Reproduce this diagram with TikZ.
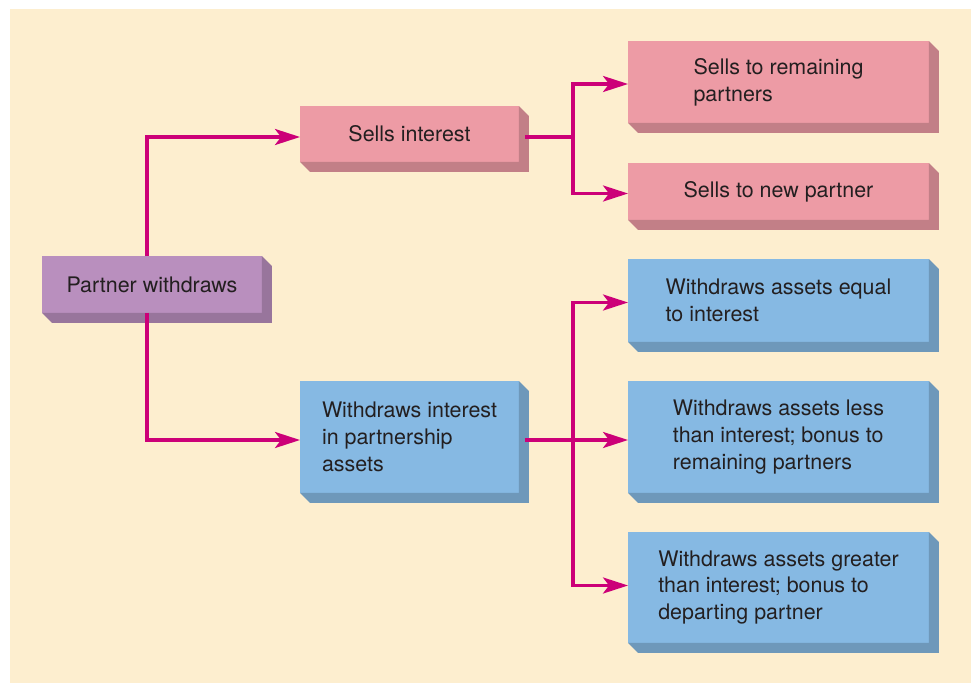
\documentclass[tikz,border=0pt]{standalone}
\usepackage{fontspec}
\setmainfont{TeX Gyre Heros}
\usetikzlibrary{arrows.meta, calc}
\definecolor{ccream}{HTML}{FDEECF}
\definecolor{cpink}{HTML}{ED9BA5}
\definecolor{cpurple}{HTML}{B98FBE}
\definecolor{cblue}{HTML}{86B9E3}
\definecolor{cmag}{HTML}{CC0078}
\definecolor{ctext}{HTML}{231F20}
\tikzset{
  every picture/.style={font=\fontsize{12.2}{15.2}\selectfont, x=0.02cm, y=-0.02cm},
  box/.style={fill=#1, draw=none, text=ctext, align=left, inner sep=4pt, outer sep=0pt, minimum width=6.02cm},
  box/.default=cblue,
  link/.style={-{Stealth[length=5mm, width=3.2mm, inset=1.2mm]}, draw=cmag, line width=1.8pt},
  feed/.style={draw=cmag, line width=1.8pt},
}

\begin{document}
\begin{tikzpicture}
  \useasboundingbox (0,0) rectangle (975,683);
  \fill[ccream] (10,9) rectangle (971,683);

  % source
  \node[box=cpurple, minimum width=4.4cm, minimum height=1.14cm] (wd) at (152,284.5) {Partner withdraws};

  % two ways out
  \node[box=cpink, minimum width=4.38cm, minimum height=1.12cm] (sell) at (409.5,134) {Sells interest};
  \node[box=cblue, minimum width=4.38cm, minimum height=2.24cm] (wint) at (409.5,437) {Withdraws interest\\in partnership\\assets};

  % selling
  \node[box=cpink, minimum height=1.64cm] (remain) at (778.5,82)    {Sells to remaining\\partners};
  \node[box=cpink, minimum height=1.14cm] (newp)   at (778.5,191.5) {Sells to new partner};

  % withdrawing
  \node[box, minimum height=1.66cm] (equal)   at (778.5,300.5) {Withdraws assets equal\\to interest};
  \node[box, minimum height=2.24cm] (less)    at (778.5,437)   {Withdraws assets less\\than interest; bonus to\\remaining partners};
  \node[box, minimum height=2.22cm] (greater) at (778.5,587.5) {Withdraws assets greater\\than interest; bonus to\\departing partner};

  % depth of the blocks
  \foreach \n/\col in {wd/cpurple, sell/cpink, wint/cblue, remain/cpink, newp/cpink, equal/cblue, less/cblue, greater/cblue}
    \fill[\col!82!black] (\n.north east) -- ++(10,10) -- ($(\n.south east)+(10,10)$)
      -- ($(\n.south west)+(10,10)$) -- (\n.south west) -- (\n.south east) -- cycle;

  % connectors
  \draw[link] ($(wd.north)+(-5,0)$) |- ($(sell.west)+(0,3)$);
  \draw[link] ($(wd.south)+(-5,0)$) |- ($(wint.west)+(0,3)$);

  \draw[feed] ($(sell.east)+(6,3)$) -- ++(48,0) coordinate (sfork);
  \draw[link] (sfork) |- ($(remain.west)+(0,2)$);
  \draw[link] (sfork) |- ($(newp.west)+(0,2)$);

  \draw[feed] ($(wint.east)+(6,3)$) -- ++(48,0) coordinate (wfork);
  \draw[link] (wfork) |- ($(equal.west)+(0,2)$);
  \draw[link] (wfork) -- ($(less.west)+(0,3)$);
  \draw[link] (wfork) |- ($(greater.west)+(0,-2)$);
\end{tikzpicture}
\end{document}
